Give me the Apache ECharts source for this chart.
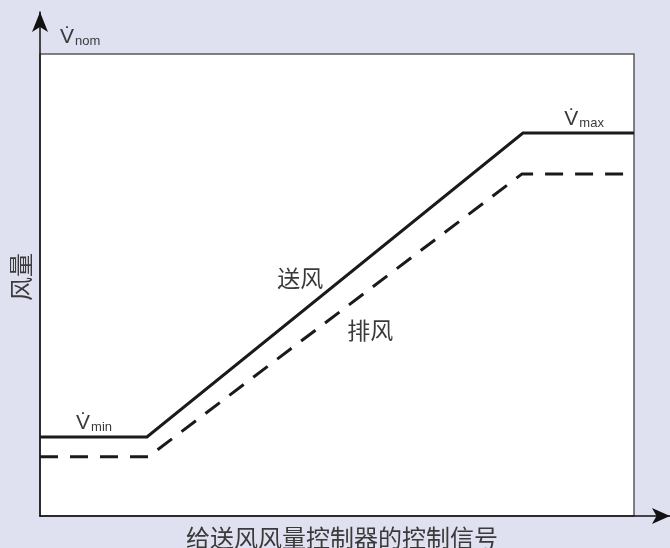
<!DOCTYPE html>
<html>
<head>
<meta charset="utf-8">
<script src="https://cdn.jsdelivr.net/npm/echarts@6/dist/echarts.min.js"></script>
<style>
html,body{margin:0;padding:0;background:#e0e1f0;}
#c{width:670px;height:548px;}
</style>
</head>
<body>
<div id="c"></div>
<script>
// Control signal (% of range) and airflow (% of V̇nom)
const supplyX = [0, 18.0, 81.3, 100];
const supplyY = [17.1, 17.1, 82.9, 82.9];
const exhaustX = [0, 18.2, 81.1, 100];
const exhaustY = [12.8, 12.8, 74.0, 74.0];

const seriesNames = ['送风', '排风'];
const labelPos = [[43.8, 51.5], [55.6, 40.3]];
const xAxisName = '给送风风量控制器的控制信号';
const yAxisName = '风量';
const vmaxPos = [91.6, 82.9];
const vminPos = [9.1, 17.1];

const CJK = '"Noto Sans CJK SC", "Noto Sans", sans-serif';
const LAT = '"Liberation Sans", Arial, sans-serif';
const TXT = '#3a3a3a';

const vRich = {
  v: {fontSize: 21, fontFamily: LAT, color: TXT, verticalAlign: 'bottom', lineHeight: 24},
  s: {fontSize: 13, fontFamily: LAT, color: TXT, verticalAlign: 'bottom', lineHeight: 18, padding: [0, 0, 0, 1]}
};

const chart = echarts.init(document.getElementById('c'));
chart.setOption({
  backgroundColor: '#e0e1f0',
  animation: false,
  grid: [
    {left: 40, right: 36, top: 54, bottom: 32, show: true, backgroundColor: '#ffffff', borderColor: '#5a5a5a', borderWidth: 1.5, outerBoundsMode: 'none', containLabel: false},
    {left: 40, right: 0, top: 12, bottom: 32, show: false, outerBoundsMode: 'none', containLabel: false}
  ],
  xAxis: [
    {type: 'value', gridIndex: 0, min: 0, max: 100,
     axisLine: {show: false}, axisTick: {show: false}, axisLabel: {show: false}, splitLine: {show: false},
     name: xAxisName, nameLocation: 'middle', nameGap: 10,
     nameTextStyle: {fontFamily: CJK, fontSize: 24, color: TXT, verticalAlign: 'top', padding: [0, 0, 0, 10]}},
    {type: 'value', gridIndex: 1, min: 0, max: 100,
     axisLine: {show: true, onZero: false, symbol: ['none', 'arrow'], symbolSize: [12, 18], lineStyle: {color: '#111', width: 1.5}},
     axisTick: {show: false}, axisLabel: {show: false}, splitLine: {show: false}}
  ],
  yAxis: [
    {type: 'value', gridIndex: 0, min: 0, max: 100,
     axisLine: {show: false}, axisTick: {show: false}, axisLabel: {show: false}, splitLine: {show: false},
     name: '{v|V\u0307}{s|nom}', nameLocation: 'end', nameGap: 6,
     nameTextStyle: {align: 'left', padding: [0, 0, 0, 20], rich: vRich}},
    {type: 'value', gridIndex: 1, min: 0, max: 100,
     axisLine: {show: true, onZero: false, symbol: ['none', 'arrow'], symbolSize: [12, 20], lineStyle: {color: '#111', width: 1.5}},
     axisTick: {show: false}, axisLabel: {show: false}, splitLine: {show: false},
     name: yAxisName, nameLocation: 'middle', nameRotate: 90, nameGap: 7,
     nameTextStyle: {fontFamily: CJK, fontSize: 24, color: TXT, padding: [0, 26, 0, 0]}}
  ],
  series: [
    {
      type: 'line', name: seriesNames[0], xAxisIndex: 0, yAxisIndex: 0,
      data: supplyX.map((x, i) => [x, supplyY[i]]),
      symbol: 'none', lineStyle: {color: '#1a1a1a', width: 3, join: 'miter'},
      markPoint: {
        symbol: 'circle', symbolSize: 0,
        data: [
          {coord: labelPos[0], label: {show: true, position: 'inside', formatter: seriesNames[0], fontFamily: CJK, fontSize: 23, color: TXT}},
          {coord: vmaxPos, label: {show: true, position: 'top', distance: 3, formatter: '{v|V\u0307}{s|max}', rich: vRich}},
          {coord: vminPos, label: {show: true, position: 'top', distance: 3, formatter: '{v|V\u0307}{s|min}', rich: vRich}}
        ]
      }
    },
    {
      type: 'line', name: seriesNames[1], xAxisIndex: 0, yAxisIndex: 0,
      data: exhaustX.map((x, i) => [x, exhaustY[i]]),
      symbol: 'none', lineStyle: {color: '#1a1a1a', width: 3, type: [18, 12]},
      markPoint: {
        symbol: 'circle', symbolSize: 0,
        data: [
          {coord: labelPos[1], label: {show: true, position: 'inside', formatter: seriesNames[1], fontFamily: CJK, fontSize: 23, color: TXT}}
        ]
      }
    }
  ]
});
</script>
</body>
</html>
